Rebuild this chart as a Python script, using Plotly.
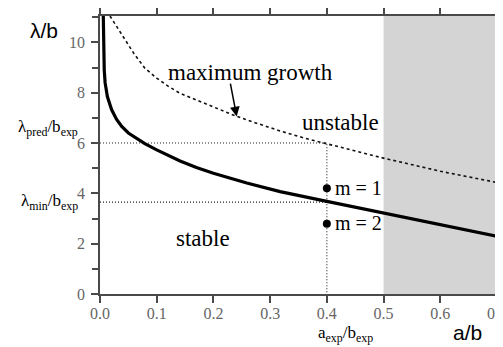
import plotly.graph_objects as go

# --- data ---
a_stable = [0.0058, 0.0065, 0.0075, 0.009, 0.0106, 0.013, 0.0176, 0.0206, 0.029, 0.0383,
            0.05, 0.065, 0.079, 0.1, 0.1412, 0.17, 0.2, 0.2588, 0.3176, 0.4, 0.4588,
            0.5, 0.6, 0.7]
lam_stable = [11.05, 9.8, 8.9, 8.4, 8.1, 7.85, 7.52, 7.32, 6.95, 6.66,
              6.4, 6.17, 5.98, 5.73, 5.29, 5.03, 4.8, 4.41, 4.07, 3.68, 3.41,
              3.22, 2.75, 2.29]

a_maxg = [0.0176, 0.032, 0.05, 0.06, 0.079, 0.1, 0.12, 0.141, 0.17, 0.2, 0.241, 0.28,
          0.3176, 0.36, 0.4, 0.45, 0.5, 0.6, 0.7]
lam_maxg = [11.05, 10.55, 9.95, 9.55, 8.98, 8.58, 8.26, 7.98, 7.71, 7.43, 7.06, 6.76,
            6.48, 6.2, 5.97, 5.68, 5.4, 4.88, 4.43]

a_exp = 0.4
lam_pred = 6.0
lam_min = 3.65
mode_labels = ["m = 1", "m = 2"]
mode_lam = [4.2, 2.79]
shade_range = [0.5, 0.7]

x_ticks = [0.0, 0.1, 0.2, 0.3, 0.4, 0.5, 0.6, 0.7]
x_ticktext = ["0.0", "0.1", "0.2", "0.3", "0.4", "0.5", "0.6", "0.7"]
y_ticks = [0, 2, 4, 6, 8, 10]

SERIF = "Liberation Serif, Times New Roman, Times, DejaVu Serif, serif"
SANS = "Liberation Sans, Arial, Helvetica, sans-serif"

fig = go.Figure()

# guide lines
fig.add_trace(go.Scatter(x=[0, a_exp, a_exp], y=[lam_pred, lam_pred, 0], mode="lines",
                         line=dict(color="#222", width=1.1, dash="1px,2px"), showlegend=False))
fig.add_trace(go.Scatter(x=[0, a_exp], y=[lam_min, lam_min], mode="lines",
                         line=dict(color="#222", width=1.1, dash="1px,2px"), showlegend=False))

# maximum growth (dotted)
fig.add_trace(go.Scatter(x=a_maxg, y=lam_maxg, mode="lines",
                         line=dict(color="#111", width=1.6, dash="dot"), showlegend=False))
# stability boundary (solid)
fig.add_trace(go.Scatter(x=a_stable, y=lam_stable, mode="lines",
                         line=dict(color="black", width=3.2), showlegend=False))
# mode points
fig.add_trace(go.Scatter(x=[a_exp] * len(mode_lam), y=mode_lam, mode="markers",
                         marker=dict(color="black", size=8), showlegend=False))

fig.add_shape(type="rect", xref="x", yref="paper", x0=shade_range[0], x1=shade_range[1],
              y0=0, y1=1, fillcolor="#d4d4d4", line=dict(width=0), layer="below")

ann = []
def txt(x, y, s, size, font=SERIF, xanchor="center", xref="x", yref="y"):
    ann.append(dict(x=x, y=y, xref=xref, yref=yref, text=s, showarrow=False,
                    xanchor=xanchor, yanchor="middle",
                    font=dict(family=font, size=size, color="black")))

txt(0.2647, 8.81, "maximum growth", 23)
txt(0.4235, 6.83, "unstable", 23)
txt(0.1823, 2.20, "stable", 23)
for lab, lv in zip(mode_labels, mode_lam):
    txt(0.4117, lv + 0.02, lab, 20, xanchor="left")
txt(-0.0504, 6.6, "λ<sub>pred</sub>/b<sub>exp</sub>", 17, xanchor="right", xref="paper")
txt(-0.0504, 3.65, "λ<sub>min</sub>/b<sub>exp</sub>", 17, xanchor="right", xref="paper")
txt(0.4324, -0.145, "a<sub>exp</sub>/b<sub>exp</sub>", 17, yref="paper")
txt(-0.141, 0.948, "λ/b", 21, font=SANS, xref="paper", yref="paper")
txt(0.648, -0.14, "a/b", 21, font=SANS, yref="paper")

ann.append(dict(x=0.241, y=7.06, ax=0.2294, ay=8.42, xref="x", yref="y", axref="x", ayref="y",
                text="", showarrow=True, arrowhead=2, arrowsize=1.3, arrowwidth=1.5,
                arrowcolor="black"))

axis_common = dict(showline=True, linecolor="#4a4a4a", linewidth=1.5, mirror="allticks",
                   ticks="outside", ticklen=7, tickwidth=1.5, tickcolor="#4a4a4a",
                   showgrid=False, zeroline=False, automargin=False,
                   ticklabeloverflow="allow",
                   tickfont=dict(family=SERIF, size=16, color="#666"))

# the page body has an 8px margin, so the figure is 8px smaller and margins shifted
fig.update_layout(
    width=495, height=339, template="none",
    margin=dict(l=92, r=6, t=8, b=53),
    paper_bgcolor="white", plot_bgcolor="white",
    font=dict(family=SERIF),
    showlegend=False,
    annotations=ann,
    xaxis=dict(range=[0, 0.7], tickvals=x_ticks, ticktext=x_ticktext,
               ticklabelstandoff=-3, **axis_common),
    yaxis=dict(range=[0, 11.05], tickvals=y_ticks, ticklabelstandoff=3,
               minor=dict(dtick=1, tick0=0, ticks="outside", ticklen=6, tickwidth=1.5,
                          tickcolor="#4a4a4a", showgrid=False),
               **axis_common),
)

fig.write_html("out.html")
